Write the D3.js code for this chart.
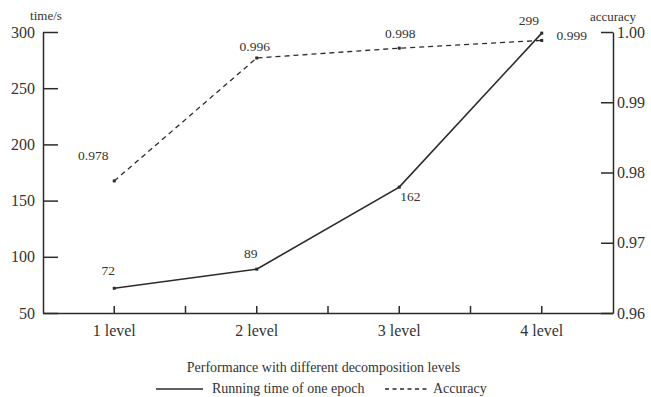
<!DOCTYPE html>
<html>
<head>
<meta charset="utf-8">
<script src="https://cdn.jsdelivr.net/npm/d3@7"></script>
<style>
  body { margin: 0; background: #fff; }
  svg { display: block; font-family: "Liberation Serif", "Times New Roman", serif; }
</style>
</head>
<body>
<div id="chart"></div>
<script>
// datos
var niveles = ["1 level", "2 level", "3 level", "4 level"];
var tiempo = [72, 89, 162, 299];
var precision = [0.9788, 0.9963, 0.9977, 0.9988];
var etiquetasPrecision = ["0.978", "0.996", "0.998", "0.999"];
var ticksTiempo = [50, 100, 150, 200, 250, 300];
var ticksPrecision = [0.96, 0.97, 0.98, 0.99, 1.00];

const W = 651, H = 397;
const MARGIN = { TOP: 32, BOTTOM: 84, LEFT: 43, RIGHT: 38 };
var width = W - MARGIN.LEFT - MARGIN.RIGHT;
var height = H - MARGIN.TOP - MARGIN.BOTTOM;

var svg = d3.select("#chart").append("svg")
    .attr("width", W)
    .attr("height", H);

var g = svg.append("g")
    .attr("transform", "translate(" + MARGIN.LEFT + "," + MARGIN.TOP + ")");

// escalas
var x = d3.scaleBand().range([0, width]).domain(niveles).padding(0);
var yT = d3.scaleLinear().domain([50, 300]).range([height, 0]);
var yA = d3.scaleLinear().domain([0.96, 1.00]).range([height, 0]);

var ink = "#2b2b2b";

// ejes
var ejeX = g.append("g")
    .attr("transform", "translate(0," + height + ")")
    .call(d3.axisBottom(x).tickSize(-7).tickSizeOuter(0).tickPadding(12));

// ticks menores entre categorias
ejeX.selectAll(".minor")
    .data(niveles.slice(1))
    .enter().append("line")
    .attr("class", "minor")
    .attr("x1", d => x(d)).attr("x2", d => x(d))
    .attr("y1", 0).attr("y2", -7);

var ejeY = g.append("g")
    .call(d3.axisLeft(yT).tickValues(ticksTiempo).tickSize(-15).tickSizeOuter(0).tickPadding(8));

var ejeY2 = g.append("g")
    .attr("transform", "translate(" + width + ",0)")
    .call(d3.axisRight(yA).tickValues(ticksPrecision).tickFormat(d3.format(".2f"))
        .tickSize(-12).tickSizeOuter(0).tickPadding(4));

[ejeX, ejeY, ejeY2].forEach(function(e) {
  e.selectAll("path, line").attr("stroke", ink).attr("stroke-width", 1.5);
  e.selectAll("text").attr("fill", "#333").style("font-size", "16px")
    .style("font-family", "Liberation Serif");
});

// titulos de ejes
g.append("text").attr("x", 3).attr("y", -12).attr("text-anchor", "middle")
  .attr("fill", "#333").style("font-size", "13px").text("time/s");
g.append("text").attr("x", width).attr("y", -11).attr("text-anchor", "middle")
  .attr("fill", "#333").style("font-size", "13px").text("accuracy");

// lineas
var cx = function(i) { return x(niveles[i]) + x.bandwidth() / 2; };

var lineaT = d3.line().x((d, i) => cx(i)).y(d => yT(d));
var lineaA = d3.line().x((d, i) => cx(i)).y(d => yA(d));

g.append("path").datum(precision)
  .attr("d", lineaA).attr("fill", "none").attr("stroke", ink)
  .attr("stroke-width", 1.3).attr("stroke-dasharray", "5,4");

g.append("path").datum(tiempo)
  .attr("d", lineaT).attr("fill", "none").attr("stroke", ink)
  .attr("stroke-width", 1.6);

// marcadores
g.selectAll(".mT").data(tiempo).enter().append("rect")
  .attr("x", (d, i) => cx(i) - 1.5).attr("y", d => yT(d) - 1.5)
  .attr("width", 3).attr("height", 3).attr("fill", ink);
g.selectAll(".mA").data(precision).enter().append("rect")
  .attr("x", (d, i) => cx(i) - 1.5).attr("y", d => yA(d) - 1.5)
  .attr("width", 3).attr("height", 3).attr("fill", ink);

// etiquetas de valores
var offT = [[-6, -13], [-6, -11], [11, 14], [-13, -8]];
var offA = [[-21, -21], [-2, -7], [1, -10], [30, 0]];

g.selectAll(".lT").data(tiempo).enter().append("text")
  .attr("x", (d, i) => cx(i) + offT[i][0])
  .attr("y", (d, i) => yT(d) + offT[i][1])
  .attr("text-anchor", "middle").attr("fill", "#333")
  .style("font-size", "13.5px").text(d => d);

g.selectAll(".lA").data(precision).enter().append("text")
  .attr("x", (d, i) => cx(i) + offA[i][0])
  .attr("y", (d, i) => yA(d) + offA[i][1])
  .attr("text-anchor", "middle").attr("fill", "#333")
  .style("font-size", "13.5px").text((d, i) => etiquetasPrecision[i]);

// leyenda
svg.append("text").attr("x", 323.5).attr("y", 372).attr("text-anchor", "middle")
  .attr("fill", "#333").style("font-size", "14px")
  .text("Performance with different decomposition levels");

var ley = svg.append("g").attr("transform", "translate(156,389)");
ley.append("line").attr("x1", 0).attr("x2", 47).attr("stroke", ink).attr("stroke-width", 1.6);
ley.append("text").attr("x", 56).attr("y", 4).attr("fill", "#333")
  .style("font-size", "14px").text("Running time of one epoch");
ley.append("line").attr("x1", 229).attr("x2", 271).attr("stroke", ink)
  .attr("stroke-width", 1.3).attr("stroke-dasharray", "4,3.5");
ley.append("text").attr("x", 277).attr("y", 4).attr("fill", "#333")
  .style("font-size", "14px").text("Accuracy");
</script>
</body>
</html>
